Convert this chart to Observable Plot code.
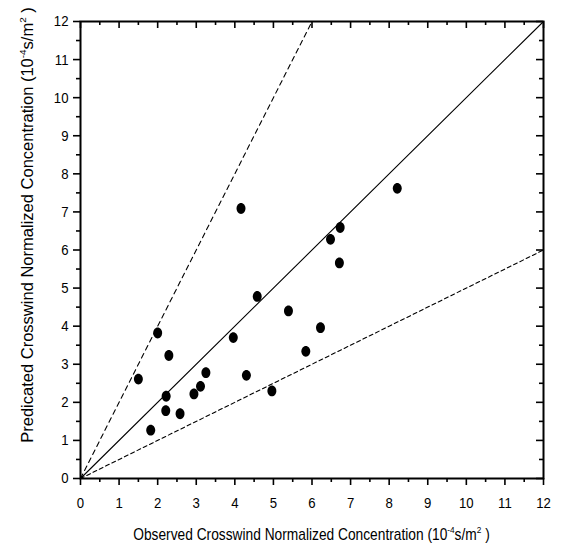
<!DOCTYPE html>
<html><head><meta charset="utf-8">
<script src="https://cdn.jsdelivr.net/npm/d3@7"></script>
<script src="https://cdn.jsdelivr.net/npm/@observablehq/plot@0.6"></script>
<style>body{margin:0;background:#fff}</style>
</head><body><div id="chart"></div>
<script>
const observed  = [1.50, 2.00, 2.29, 1.82, 2.22, 2.21, 2.58, 2.94, 3.11, 3.25, 3.96, 4.30, 4.58, 4.96, 5.39, 5.84, 4.16, 6.22, 6.48, 6.73, 6.71, 8.21];
const predicted = [2.61, 3.82, 3.23, 1.27, 2.16, 1.78, 1.70, 2.22, 2.42, 2.78, 3.70, 2.71, 4.78, 2.30, 4.40, 3.34, 7.09, 3.96, 6.28, 6.59, 5.66, 7.62];
const majorTicks = [0,1,2,3,4,5,6,7,8,9,10,11,12];
const minorTicks = [0.5,1.5,2.5,3.5,4.5,5.5,6.5,7.5,8.5,9.5,10.5,11.5];
const refRatios = [1, 2, 0.5];
const xTitle = ["Observed Crosswind Normalized Concentration (10", "-4", "s/m", "2", " )"];
const yTitle = ["Predicated Crosswind Normalized Concentration (10", "-4", "s/m", "2", " )"];

const FONT = "'Liberation Sans', Arial, sans-serif";
const W = 565, H = 550, mL = 80, mR = 22, mT = 21, mB = 72;
const innerW = W - mL - mR, innerH = H - mT - mB;
const maxV = 12;

function refLine(k) {
  const xe = Math.min(maxV, maxV / k);
  return [{x: 0, y: 0}, {x: xe, y: xe * k}];
}

const ellipse = {
  draw(context, size) {
    const r = Math.sqrt(size / Math.PI);
    const rx = r * 0.86, ry = r * 1.04, c = 0.5523;
    context.moveTo(rx, 0);
    context.bezierCurveTo(rx, ry * c, rx * c, ry, 0, ry);
    context.bezierCurveTo(-rx * c, ry, -rx, ry * c, -rx, 0);
    context.bezierCurveTo(-rx, -ry * c, -rx * c, -ry, 0, -ry);
    context.bezierCurveTo(rx * c, -ry, rx, -ry * c, rx, 0);
    context.closePath();
  }
};

const idx = observed.map((_, i) => i);

const chart = Plot.plot({
  width: W, height: H,
  marginLeft: mL, marginRight: mR, marginTop: mT, marginBottom: mB,
  style: {fontFamily: FONT, background: "#fff", color: "#000"},
  x: {domain: [0, maxV], label: null},
  y: {domain: [0, maxV], label: null},
  marks: [
    Plot.line(refLine(refRatios[0]), {x: "x", y: "y", stroke: "#000", strokeWidth: 1.1}),
    Plot.line(refLine(refRatios[1]), {x: "x", y: "y", stroke: "#000", strokeWidth: 1.1, strokeDasharray: "5,4"}),
    Plot.line(refLine(refRatios[2]), {x: "x", y: "y", stroke: "#000", strokeWidth: 1.1, strokeDasharray: "4,3"}),
    Plot.dot(idx, {x: i => observed[i], y: i => predicted[i], r: 5.2, symbol: ellipse, fill: "#000", stroke: "none"}),
    Plot.axisX({ticks: majorTicks, tickSize: 7, strokeWidth: 1.6, tickPadding: 11, fontSize: 15.5, tickFormat: d => d}),
    Plot.axisX({ticks: minorTicks, tickSize: 4, strokeWidth: 1.6, text: null}),
    Plot.axisY({ticks: majorTicks, tickSize: 7, strokeWidth: 1.6, tickPadding: 5, fontSize: 15.5, tickFormat: d => d}),
    Plot.axisY({ticks: minorTicks, tickSize: 4, strokeWidth: 1.6, text: null}),
    Plot.tickX(majorTicks, {x: d => d, insetBottom: innerH - 7, strokeWidth: 1.6}),
    Plot.tickX(minorTicks, {x: d => d, insetBottom: innerH - 4, strokeWidth: 1.6}),
    Plot.tickY(majorTicks, {y: d => d, insetLeft: innerW - 7, strokeWidth: 1.6}),
    Plot.tickY(minorTicks, {y: d => d, insetLeft: innerW - 4, strokeWidth: 1.6}),
    Plot.frame({stroke: "#000", strokeWidth: 2})
  ]
});

document.getElementById("chart").appendChild(chart);

const squeeze = 0.85;
chart.querySelectorAll("g[aria-label$='axis tick label'] text").forEach(el => {
  const len = el.getComputedTextLength();
  if (len > 0) {
    el.setAttribute("textLength", (len * squeeze).toFixed(2));
    el.setAttribute("lengthAdjust", "spacingAndGlyphs");
  }
});

const svg = d3.select(chart);
function addTitle(parts, x, y, rotate, fontSize, targetLen) {
  const t = svg.append("text")
    .attr("text-anchor", "middle")
    .attr("font-size", fontSize)
    .attr("font-family", FONT)
    .attr("fill", "#000");
  parts.forEach((p, i) => {
    const sup = i === 1 || i === 3;
    const ts = t.append("tspan").text(p);
    if (sup) ts.attr("font-size", fontSize * 0.6).attr("dy", -fontSize * 0.45);
    else if (i > 0) ts.attr("dy", fontSize * 0.45);
  });
  const len = t.node().getComputedTextLength() || targetLen;
  const sx = targetLen / len;
  t.attr("transform", `translate(${x},${y}) rotate(${rotate}) scale(${sx},1)`);
}
addTitle(xTitle, mL + innerW / 2, 540, 0, 16, 357);
addTitle(yTitle, 33, 225, -90, 16.5, 436);
</script>
</body></html>
